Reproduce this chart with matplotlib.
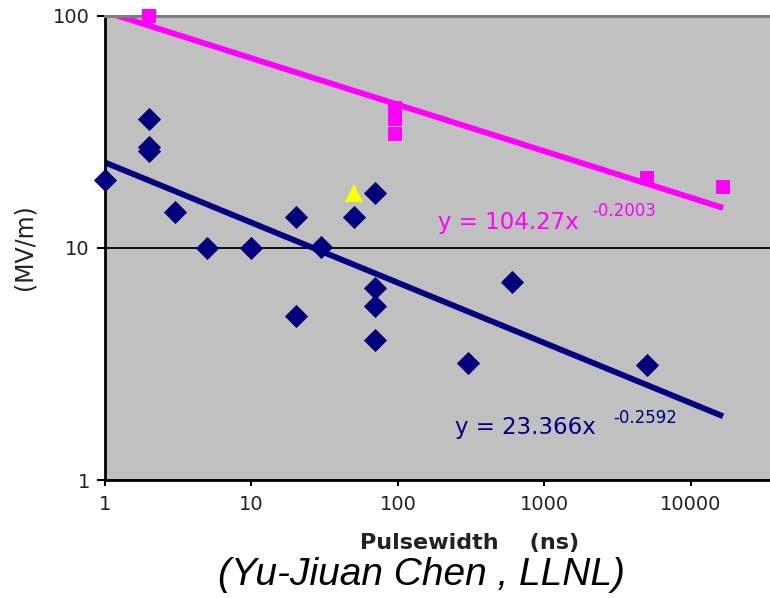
import numpy as np
import matplotlib.pyplot as plt

# pulsewidth (ns) and field (MV/m)
blue_x = [1, 2, 2, 2, 3, 5, 10, 20, 20, 30, 50, 70, 70, 70, 70, 300, 600, 5000]
blue_y = [19.6, 36, 27.3, 26.3, 14.3, 10, 10, 13.6, 5.1, 10.1, 13.6, 17.2, 6.7, 5.6, 4.0, 3.18, 7.16, 3.13]

pink_x = [2, 96, 96, 96, 5000, 16600]
pink_y = [100, 40, 36, 31, 20, 18.3]

yellow_x = [50]
yellow_y = [17.3]

# power-law fits printed on the chart
blue_a, blue_b = 23.366, -0.2592
pink_a, pink_b = 104.27, -0.2003
fit_xmax = 16600

blue = '#000080'
pink = '#ff00ff'

fig = plt.figure(figsize=(7.7, 5.98), dpi=100)
# right edge of the axes is cut off in the reference, so let it run past the figure
ax = fig.add_axes([0.1364, 0.1973, 0.951, 0.776])
ax.set_facecolor('#c0c0c0')
ax.set_xscale('log')
ax.set_yscale('log')
ax.set_xlim(1, 1e5)
ax.set_ylim(1, 100)

xf = np.logspace(0, np.log10(fit_xmax), 200)
ax.plot(xf, pink_a * xf ** pink_b, color=pink, lw=4.2, solid_capstyle='butt', zorder=2)
ax.plot(xf, blue_a * xf ** blue_b, color=blue, lw=4.2, solid_capstyle='butt', zorder=2)

ax.plot(blue_x, blue_y, 'D', color=blue, markersize=11, markeredgecolor='#000060',
        markeredgewidth=0.6, linestyle='none', zorder=3, clip_on=False)
ax.plot(pink_x, pink_y, 's', color=pink, markersize=10, markeredgewidth=0,
        linestyle='none', zorder=3, clip_on=False)
ax.plot(yellow_x, yellow_y, '^', color='#ffff00', markersize=13, markeredgewidth=0,
        linestyle='none', zorder=3)

ax.yaxis.grid(True, which='major', color='black', lw=1.3)
ax.set_axisbelow(True)
ax.minorticks_off()
ax.set_xticks([1, 10, 100, 1000, 10000])
ax.set_xticklabels(['1', '10', '100', '1000', '10000'])
ax.set_yticks([1, 10, 100])
ax.set_yticklabels(['1', '10', '100'])
ax.tick_params(axis='x', direction='out', length=4, width=1.5, pad=7, labelsize=14, labelcolor='#222222')
ax.tick_params(axis='y', direction='out', length=6, width=1.5, pad=5, labelsize=14, labelcolor='#222222')

for s in ['left', 'bottom']:
    ax.spines[s].set_color('black')
    ax.spines[s].set_linewidth(2)
ax.spines['top'].set_color('#7f7f7f')
ax.spines['top'].set_linewidth(2.2)
ax.spines['right'].set_visible(False)

# equations
ax.text(0.455, 0.556, 'y = 104.27x', transform=ax.transAxes, color=pink, fontsize=16.5,
        ha='left', va='center')
ax.text(0.666, 0.58, '-0.2003', transform=ax.transAxes, color=pink, fontsize=12,
        ha='left', va='center')
ax.text(0.478, 0.114, 'y = 23.366x', transform=ax.transAxes, color=blue, fontsize=16.5,
        ha='left', va='center')
ax.text(0.694, 0.134, '-0.2592', transform=ax.transAxes, color=blue, fontsize=12,
        ha='left', va='center')

fig.text(25 / 770, 1 - 247 / 598, '(MV/m)', rotation=90, ha='center', va='center',
         fontsize=17, color='#222222')
fig.text(470 / 770, 1 - 543 / 598, 'Pulsewidth    (ns)', ha='center', va='center',
         fontsize=16, fontweight='bold', color='#222222')
fig.text(421 / 770, 1 - 575 / 598, '(Yu-Jiuan Chen , LLNL)', ha='center', va='center',
         fontsize=28, style='italic', family='Liberation Sans', color='black')

fig.savefig('out.png', dpi=100)
